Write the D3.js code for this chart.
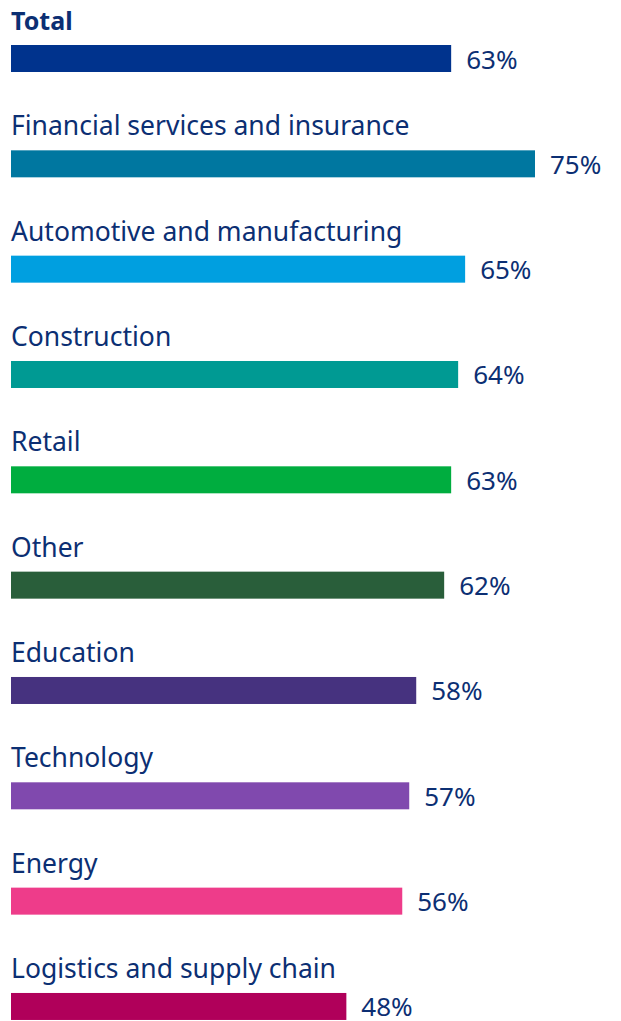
<!DOCTYPE html>
<html>
<head>
<meta charset="utf-8">
<script src="https://cdn.jsdelivr.net/npm/d3@7"></script>
<style>
  html, body { margin: 0; padding: 0; background: #ffffff; }
  svg { display: block; }
  text { font-family: "Noto Sans", "Open Sans", sans-serif; }
</style>
</head>
<body>
<svg id="chart" width="621" height="1021"></svg>
<script>
// Share of respondents by sector
const sectors = [
  "Total",
  "Financial services and insurance",
  "Automotive and manufacturing",
  "Construction",
  "Retail",
  "Other",
  "Education",
  "Technology",
  "Energy",
  "Logistics and supply chain"
];
const values = [63, 75, 65, 64, 63, 62, 58, 57, 56, 48];
const colors = [
  "#00338d", "#0077a0", "#009fe0", "#009a93", "#00ad3f",
  "#295e3a", "#46327f", "#8049ae", "#ee3c8a", "#b0005a"
];

const svg = d3.select("#chart");
const textColor = "#0c2f73";

const x = d3.scaleLinear().domain([0, 75]).range([11, 535]);
const y = d3.scaleBand().domain(sectors).range([45, 45 + 105.33 * 10]).paddingInner(0).paddingOuter(0);
const barH = 27;

const rows = svg.selectAll("g.row")
  .data(sectors.map((s, i) => ({ name: s, value: values[i], color: colors[i], i })))
  .join("g")
  .attr("class", "row")
  .attr("transform", d => `translate(0,${y(d.name)})`);

rows.append("rect")
  .attr("x", x(0))
  .attr("y", 0)
  .attr("width", d => x(d.value) - x(0))
  .attr("height", barH)
  .attr("fill", d => d.color);

rows.append("text")
  .attr("x", 11)
  .attr("y", -15)
  .attr("fill", textColor)
  .attr("font-size", d => d.i === 0 ? 25 : 26.5)
  .attr("font-weight", d => d.i === 0 ? 700 : 400)
  .text(d => d.name);

rows.append("text")
  .attr("x", d => x(d.value) + 15)
  .attr("y", 23.5)
  .attr("fill", textColor)
  .attr("font-size", 26)
  .text(d => d.value + "%");
</script>
</body>
</html>
